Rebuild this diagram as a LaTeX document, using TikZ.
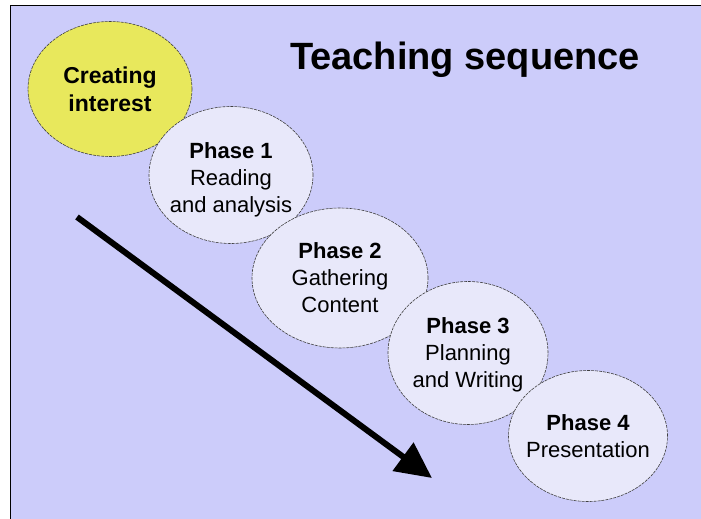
\documentclass[tikz,border=0pt]{standalone}
\usepackage{fontspec}
\setmainfont{Liberation Sans}
\usetikzlibrary{shapes.geometric,arrows.meta}
\definecolor{bgl}{HTML}{CCCCFA}
\definecolor{yel}{HTML}{E8E85C}
\definecolor{pha}{HTML}{E8E8FA}
\tikzset{
  blob/.style={ellipse, draw=black!75, dash pattern=on 3pt off 1pt, line width=0.6pt, inner sep=0pt},
  phasebox/.style={blob, fill=pha},
  txt/.style={align=center, inner sep=0pt, font=\fontsize{22}{27}\selectfont},
}
\begin{document}
\begin{tikzpicture}[x=1pt,y=-1pt]
\useasboundingbox (0,0) rectangle (701,519);
\fill[white] (0,0) rectangle (701,519);
\fill[bgl] (10,6) rectangle (701,519);
\draw[line width=1pt] (10,519) -- (10,6) -- (701,6);
\node (title) at (465,60) {\fontsize{38}{44}\selectfont\bfseries Teaching sequence};
\node[blob, fill=yel, minimum width=164pt, minimum height=135pt] (ci) at (110,89) {};
\node[txt, font=\fontsize{23}{28}\selectfont\bfseries] (cit) at (ci.center) {Creating\\interest};
\node[phasebox, minimum width=164pt, minimum height=137pt] (p1) at (231,175) {};
\node[txt] (p1t) at ([yshift=-5pt]p1.center) {\textbf{Phase 1}\\Reading\\and analysis};
\node[phasebox, minimum width=176pt, minimum height=140pt] (p2) at (340,278) {};
\node[txt] (p2t) at (p2.center) {\textbf{Phase 2}\\Gathering\\Content};
\node[phasebox, minimum width=160pt, minimum height=143pt] (p3) at (468,353) {};
\node[txt] (p3t) at ([yshift=-2pt]p3.center) {\textbf{Phase 3}\\Planning\\and Writing};
\node[phasebox, minimum width=159pt, minimum height=131pt] (p4) at (588,436) {};
\node[txt] (p4t) at (p4.center) {\textbf{Phase 4}\\Presentation};
\coordinate (as) at (77,217);
\coordinate (ae) at (432,478);
\draw[line width=6pt, -{Triangle[length=36pt,width=34pt]}] (as) -- (ae);
\end{tikzpicture}
\end{document}
